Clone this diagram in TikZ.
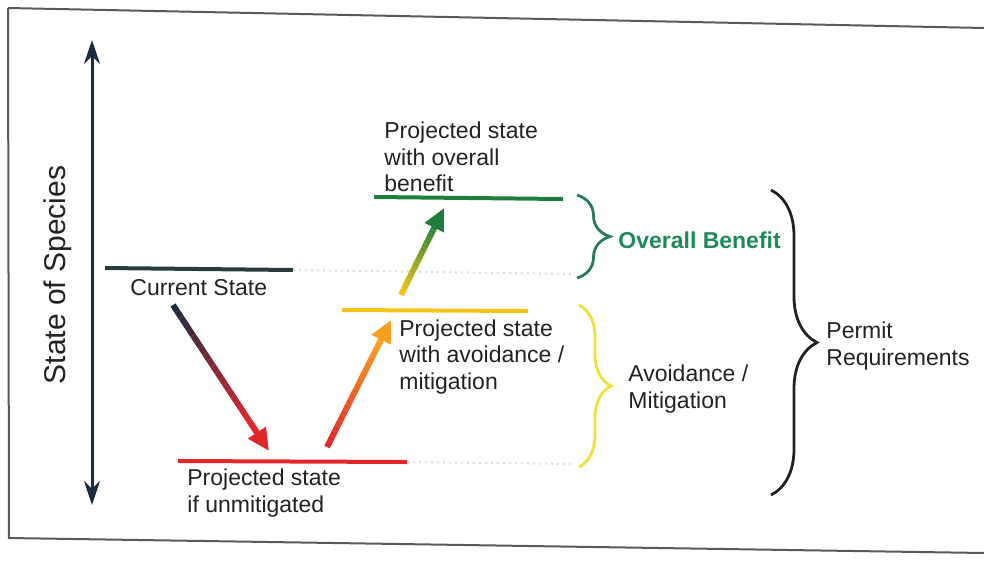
\documentclass[tikz,border=0pt]{standalone}
\usepackage{fontspec}
\setmainfont{Liberation Sans}
\usetikzlibrary{arrows.meta,calc,decorations.pathreplacing}
\definecolor{ink}{HTML}{222222}
\definecolor{navy}{HTML}{1C2B40}
\definecolor{slate}{HTML}{2C3A3C}
\definecolor{redl}{HTML}{E3262B}
\definecolor{ambr}{HTML}{F5A020}
\definecolor{yell}{HTML}{F5C414}
\definecolor{leaf}{HTML}{1E7F3C}
\definecolor{teal}{HTML}{2A7A5C}
\definecolor{mint}{HTML}{1E8A5C}
\definecolor{lime}{HTML}{EEE23A}
% shaded arrow: #1 tail, #2 head, #3 start colour, #4 end colour
\newcommand\shadearrow[4]{%
  \foreach \i in {0,...,19}{
    \pgfmathtruncatemacro\pct{100*\i/19}
    \draw[line width=3pt, color=#4!\pct!#3] ($(#1)!\i/24!(#2)$) -- ($(#1)!\i/24+1/24!(#2)$);
  }
  \draw[-{Triangle[length=11pt,width=10pt]}, line width=3pt, #4] ($(#1)!0.82!(#2)$) -- (#2);
}
\begin{document}
\begin{tikzpicture}[x=0.5pt, y=-0.5pt, font=\fontsize{11.5}{13.3}\selectfont, text=ink,
  level/.style={line width=2pt},
  lab/.style={anchor=west, align=left, inner sep=0pt},
  guide/.style={gray!25, dotted, line width=1pt},
  brc/.style={decorate, decoration={brace, amplitude=#1}, line width=1.4pt},
  frame/.style={draw=gray!70!black, line width=1pt}]
\useasboundingbox (0,0) rectangle (984,563);
% scanned frame
\draw[frame] (8,8) -- (984,28);
\draw[frame] (8,8) -- (9,538) -- (984,553);
% axis
\coordinate (ytop) at (92,40); \coordinate (ybot) at (92,505);
\draw[navy, line width=1.5pt, {Stealth[length=12pt,width=8pt]}-{Stealth[length=12pt,width=8pt]}] (ybot) -- (ytop);
\node[rotate=90, font=\fontsize{15}{18}\selectfont] (axl) at (58,275) {State of Species};
% levels
\draw[level, slate] (105,268) coordinate (cs0) -- (293,270) coordinate (cs1);
\draw[level, redl] (178,461) coordinate (un0) -- (407,462) coordinate (un1);
\draw[level, yell] (342,310) coordinate (av0) -- (528,311) coordinate (av1);
\draw[level, leaf] (374,197) coordinate (bn0) -- (563,199) coordinate (bn1);
\draw[guide] (cs1) -- (575,274);
\draw[guide] (un1) -- (575,464);
% labels
\node[lab] (cur) at (130,288) {Current State};
\node[lab] (unm) at (187,493) {Projected state\\if unmitigated};
\node[lab] (avo) at (399,357) {Projected state\\with avoidance /\\mitigation};
\node[lab] (ben) at (384,157) {Projected state\\with overall\\benefit};
% arrows
\coordinate (a1) at (173,305); \coordinate (b1) at (269,451);
\coordinate (a2) at (327,447); \coordinate (b2) at (391,320);
\coordinate (a3) at (401,295); \coordinate (b3) at (444,208);
\shadearrow{a1}{b1}{navy}{redl}
\shadearrow{a2}{b2}{redl}{ambr}
\shadearrow{a3}{b3}{yell}{leaf}
% braces
\draw[brc=16.5pt, teal] (577,195) -- (577,278);
\draw[brc=16pt, lime] (579,305) -- (579,467);
\draw[brc=23pt, ink] (771,190) -- (771,495);
\node[lab, font=\fontsize{11.5}{13.3}\selectfont\bfseries, text=mint] (obn) at (618,240) {Overall Benefit};
\node[lab] (avm) at (628,389) {Avoidance /\\Mitigation};
\node[lab] (prm) at (826,346) {Permit\\Requirements};
\end{tikzpicture}
\end{document}
